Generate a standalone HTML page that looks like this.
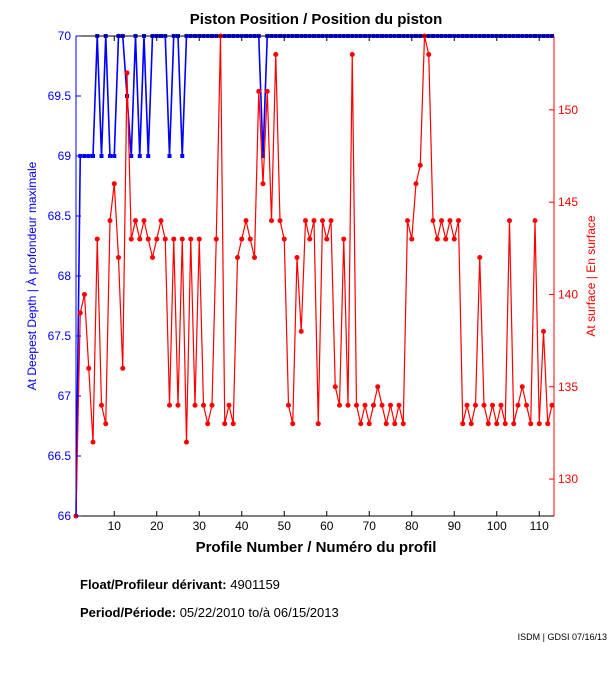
<!DOCTYPE html>
<html><head><meta charset="utf-8"><style>
html,body{margin:0;padding:0;background:#fff;}
svg{display:block;font-family:"Liberation Sans",sans-serif;}
</style></head><body>
<svg id="s" width="611" height="675" viewBox="0 0 611 675" xmlns="http://www.w3.org/2000/svg">
<rect width="611" height="675" fill="#fff"/>
<text x="316" y="24" font-size="15" font-weight="bold" text-anchor="middle">Piston Position / Position du piston</text>
<g id="plot"></g>
<line x1="76" y1="36" x2="554" y2="36" stroke="#000"/>
<line x1="76" y1="516" x2="554" y2="516" stroke="#000"/>
<line x1="76" y1="36" x2="76" y2="516" stroke="#00f"/>
<line x1="554" y1="36" x2="554" y2="516" stroke="#f00"/>
<g id="ticks" font-size="12"></g>
<text x="316" y="552" font-size="15" font-weight="bold" text-anchor="middle">Profile Number / Numéro du profil</text>
<text transform="translate(36,276) rotate(-90)" font-size="12" fill="#00f" text-anchor="middle">At Deepest Depth | À profondeur maximale</text>
<text transform="translate(595,276) rotate(-90)" font-size="12" fill="#f00" text-anchor="middle">At surface | En surface</text>
<text x="80" y="589" font-size="13"><tspan font-weight="bold">Float/Profileur dérivant:</tspan> 4901159</text>
<text x="80" y="617" font-size="13"><tspan font-weight="bold">Period/Période:</tspan> 05/22/2010  to/à  06/15/2013</text>
<text x="607" y="640" font-size="9" text-anchor="end">ISDM | GDSI 07/16/13</text>
</svg>
<script>
var red=[128,139,140,136,132,143,134,133,144,146,142,136,152,143,144,143,144,143,142,143,144,143,134,143,134,143,132,143,134,143,134,133,134,143,154,133,134,133,142,143,144,143,142,151,146,151,144,153,144,143,134,133,142,138,144,143,144,133,144,143,144,135,134,143,134,153,134,133,134,133,134,135,134,133,134,133,134,133,144,143,146,147,154,153,144,143,144,143,144,143,144,133,134,133,134,142,134,133,134,133,134,133,144,133,134,135,134,133,144,133,138,133,134];
var blue=[66,69,69,69,69,70,69,70,69,69,70,70,69.5,69,70,69,70,69,70,70,70,70,69,70,70,69];
while(blue.length<113)blue.push(70);
blue[44]=69;
function X(i){return 76+(i-1)*4.25;}
function YR(v){return 516-(v-128)*480/26;}
function YL(v){return 516-(v-66)*120;}
var NS="http://www.w3.org/2000/svg";
function el(t,a,p){var e=document.createElementNS(NS,t);for(var k in a)e.setAttribute(k,a[k]);(p||document.getElementById('plot')).appendChild(e);return e;}
var pr=[],pb=[];
for(var i=1;i<=113;i++){pr.push(X(i).toFixed(2)+","+YR(red[i-1]).toFixed(2));pb.push(X(i).toFixed(2)+","+YL(blue[i-1]).toFixed(2));}
el('polyline',{points:pb.join(' '),fill:'none',stroke:'#00f','stroke-width':1.6});
for(var i=1;i<=113;i++){el('rect',{x:X(i)-2,y:YL(blue[i-1])-2,width:4,height:4,fill:'#00f'});}
el('polyline',{points:pr.join(' '),fill:'none',stroke:'#f00','stroke-width':1.2});
for(var i=1;i<=113;i++){el('circle',{cx:X(i),cy:YR(red[i-1]),r:2.5,fill:'#f00'});}
var t=document.getElementById('ticks');
for(var v=66;v<=70.001;v+=0.5){var y=YL(v);el('line',{x1:76,y1:y,x2:81,y2:y,stroke:'#00f'},t);var tx=el('text',{x:71,y:y+4,fill:'#00f','text-anchor':'end'},t);tx.textContent=(v%1?v.toFixed(1):v);}
for(var v=130;v<=150;v+=5){var y=YR(v);el('line',{x1:549,y1:y,x2:554,y2:y,stroke:'#f00'},t);var tx=el('text',{x:558,y:y+4,fill:'#f00'},t);tx.textContent=v;}
for(var v=10;v<=110;v+=10){var x=X(v);el('line',{x1:x,y1:516,x2:x,y2:511,stroke:'#000'},t);el('line',{x1:x,y1:36,x2:x,y2:41,stroke:'#000'},t);var tx=el('text',{x:x,y:530,'text-anchor':'middle'},t);tx.textContent=v;}
</script>
</body></html>
